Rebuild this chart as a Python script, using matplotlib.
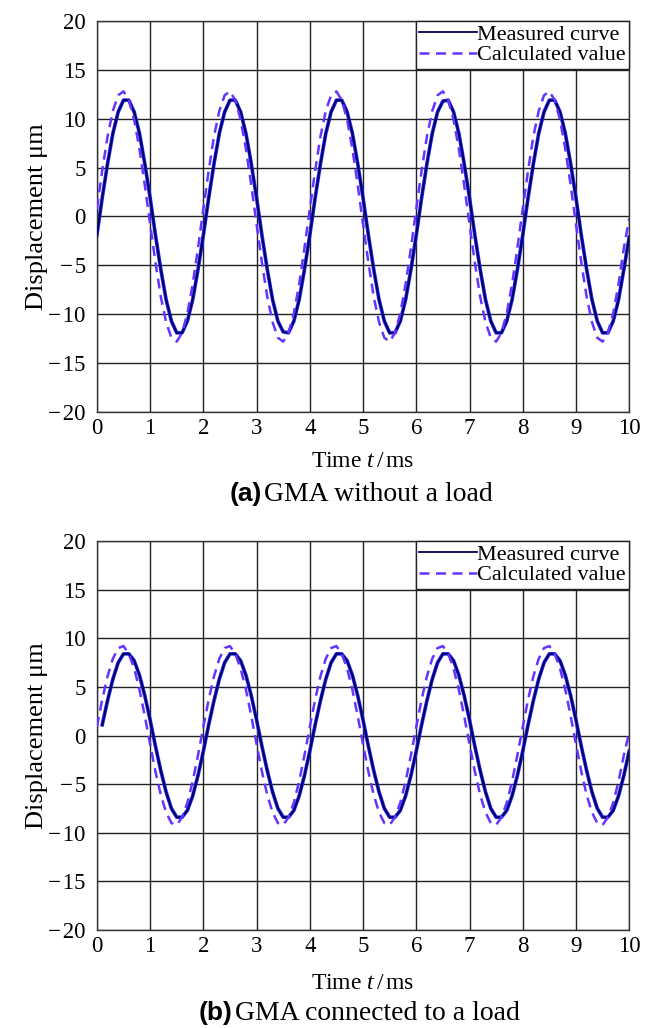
import numpy as np
import matplotlib
matplotlib.use("Agg")
import matplotlib.pyplot as plt
from matplotlib.ticker import FuncFormatter

plt.rcParams["font.family"] = ["Liberation Serif", "DejaVu Serif"]
plt.rcParams["mathtext.fontset"] = "custom"
plt.rcParams["mathtext.rm"] = "Liberation Serif"
plt.rcParams["mathtext.it"] = "Liberation Serif:italic"

# time base, 0.1 ms sampling
TIME_MS = np.round(np.arange(101) * 0.1, 1)

# (a) GMA without a load, one row per 2 ms period
MEASURED_A = [
    -1.9, 1.9, 5.4, 8.5, 10.7, 11.9, 11.9, 10.7, 8.5, 5.4, 1.9, -1.9, -5.4, -8.5, -10.7, -11.9, -11.9, -10.7, -8.5, -5.4,
    -1.9, 1.9, 5.4, 8.5, 10.7, 11.9, 11.9, 10.7, 8.5, 5.4, 1.9, -1.9, -5.4, -8.5, -10.7, -11.8, -11.9, -10.7, -8.5, -5.4,
    -1.9, 1.9, 5.4, 8.5, 10.7, 11.9, 11.9, 10.7, 8.5, 5.4, 1.9, -1.9, -5.4, -8.5, -10.7, -11.9, -11.9, -10.7, -8.5, -5.4,
    -1.9, 1.9, 5.4, 8.5, 10.7, 11.8, 11.9, 10.7, 8.5, 5.4, 1.9, -1.9, -5.4, -8.5, -10.7, -11.9, -11.9, -10.7, -8.5, -5.4,
    -1.9, 1.9, 5.4, 8.5, 10.7, 11.9, 11.9, 10.7, 8.5, 5.4, 1.9, -1.9, -5.4, -8.5, -10.7, -11.9, -11.9, -10.7, -8.5, -5.4,
    -2.1,
]
CALCULATED_A = [
    0.8, 4.7, 8.2, 10.8, 12.4, 12.8, 11.9, 9.9, 6.9, 3.2, -0.8, -4.7, -8.2, -10.8, -12.4, -12.8, -11.9, -9.9, -6.9, -3.2,
    0.8, 4.7, 8.2, 10.8, 12.4, 12.8, 11.9, 9.9, 6.9, 3.2, -0.8, -4.7, -8.2, -10.8, -12.4, -12.8, -11.9, -9.9, -6.9, -3.2,
    0.8, 4.7, 8.2, 10.8, 12.4, 12.8, 11.9, 9.9, 6.9, 3.2, -0.8, -4.7, -8.2, -10.8, -12.4, -12.8, -11.9, -9.9, -6.9, -3.2,
    0.8, 4.7, 8.2, 10.8, 12.4, 12.8, 11.9, 9.9, 6.9, 3.2, -0.8, -4.7, -8.2, -10.8, -12.4, -12.8, -11.9, -9.9, -6.9, -3.2,
    0.8, 4.7, 8.2, 10.8, 12.4, 12.8, 11.9, 9.9, 6.9, 3.2, -0.8, -4.7, -8.2, -10.8, -12.4, -12.8, -11.9, -9.9, -6.9, -3.2,
    -0.2,
]

# (b) GMA connected to a load (measured trace begins at ~0.1 ms)
MEASURED_B = [
    np.nan, 1.1, 3.6, 5.8, 7.5, 8.4, 8.4, 7.7, 6.2, 4.1, 1.6, -1.1, -3.6, -5.8, -7.5, -8.4, -8.4, -7.7, -6.2, -4.1,
    -1.6, 1.1, 3.6, 5.8, 7.5, 8.4, 8.4, 7.7, 6.2, 4.1, 1.6, -1.1, -3.6, -5.8, -7.5, -8.4, -8.4, -7.7, -6.2, -4.1,
    -1.6, 1.1, 3.6, 5.8, 7.5, 8.4, 8.4, 7.7, 6.2, 4.1, 1.6, -1.1, -3.6, -5.8, -7.5, -8.4, -8.4, -7.7, -6.2, -4.1,
    -1.6, 1.1, 3.6, 5.8, 7.5, 8.4, 8.4, 7.7, 6.2, 4.1, 1.6, -1.1, -3.6, -5.8, -7.5, -8.4, -8.4, -7.7, -6.2, -4.1,
    -1.6, 1.1, 3.6, 5.8, 7.5, 8.4, 8.4, 7.7, 6.2, 4.1, 1.6, -1.1, -3.6, -5.8, -7.5, -8.4, -8.4, -7.7, -6.2, -4.1,
    -1.6,
]
CALCULATED_B = [
    0.9, 3.7, 6.1, 7.9, 9.0, 9.2, 8.4, 6.9, 4.7, 2.0, -0.9, -3.7, -6.1, -7.9, -9.0, -9.2, -8.4, -6.9, -4.7, -2.0,
    0.9, 3.7, 6.1, 7.9, 9.0, 9.2, 8.4, 6.9, 4.7, 2.0, -0.9, -3.7, -6.1, -7.9, -9.0, -9.2, -8.4, -6.9, -4.7, -2.0,
    0.9, 3.7, 6.1, 7.9, 9.0, 9.2, 8.4, 6.9, 4.7, 2.0, -0.9, -3.7, -6.1, -7.9, -9.0, -9.2, -8.4, -6.9, -4.7, -2.0,
    0.9, 3.7, 6.1, 7.9, 9.0, 9.2, 8.4, 6.9, 4.7, 2.0, -0.9, -3.7, -6.1, -7.9, -9.0, -9.2, -8.4, -6.9, -4.7, -2.0,
    0.9, 3.7, 6.1, 7.9, 9.0, 9.2, 8.4, 6.9, 4.7, 2.0, -0.9, -3.7, -6.1, -7.9, -9.0, -9.2, -8.4, -6.9, -4.7, -2.0,
    0.3,
]

X_TICKS = list(range(0, 11))
Y_TICKS = list(range(-20, 21, 5))
CAPTIONS = [("(a)", "GMA without a load"), ("(b)", "GMA connected to a load")]

NAVY = "#000050"
BAND = "#1e1eff"
CALC = "#6633ff"


def ytick_fmt(v, pos):
    return f"\u2212\u200a{abs(int(v))}" if v < 0 else f"{int(v)}"


def draw_panel(ax, measured, calculated, labelpad):
    ax.plot(TIME_MS, measured, color=BAND, linewidth=2.6, zorder=2)
    ax.plot(TIME_MS, measured, color=NAVY, linewidth=1.3, zorder=3,
            label="Measured curve")
    ax.plot(TIME_MS, calculated, color=CALC, linewidth=1.8, zorder=4,
            linestyle=(0, (4, 2.6)), label="Calculated value")
    ax.set_xlim(0, 10)
    ax.set_ylim(-20, 20)
    ax.set_xticks(X_TICKS)
    ax.set_yticks(Y_TICKS)
    ax.yaxis.set_major_formatter(FuncFormatter(ytick_fmt))
    ax.grid(True, color="#222222", linewidth=1.0)
    ax.set_axisbelow(True)
    ax.tick_params(length=0, labelsize=16.5, pad=4)
    ax.tick_params(axis="y", pad=8)
    for sp in ax.spines.values():
        sp.set_color("#333333")
        sp.set_linewidth(1.0)
    ax.set_xlabel("Time $t\\,$/$\\,$ms", fontsize=17, labelpad=labelpad)
    ax.set_ylabel("Displacement \u03bcm", fontsize=19, labelpad=0)
    leg = ax.legend(loc="upper right", borderaxespad=0, fancybox=False,
                    fontsize=16, handlelength=2.6, handletextpad=0.0,
                    labelspacing=0.0, borderpad=0.15, framealpha=1)
    leg.get_frame().set_edgecolor("#222222")
    leg.get_frame().set_linewidth(1.0)
    leg.set_zorder(10)


fig = plt.figure(figsize=(6.46, 10.28), dpi=100)
ax_a = fig.add_axes([0.150, 0.5992, 0.824, 0.3804])
ax_b = fig.add_axes([0.150, 0.0953, 0.824, 0.3784])

draw_panel(ax_a, MEASURED_A, CALCULATED_A, labelpad=9)
draw_panel(ax_b, MEASURED_B, CALCULATED_B, labelpad=12)

for (tag, text), xs, ys in zip(CAPTIONS, [0.405, 0.36], [1 - 494 / 1028, 1 - 1013 / 1028]):
    fig.text(xs, ys, tag, ha="right", va="center", fontsize=19,
             fontweight="bold", family=["Liberation Sans", "DejaVu Sans"])
    fig.text(xs + 0.004, ys, text, ha="left", va="center", fontsize=20)

fig.savefig("out.png", dpi=100)
